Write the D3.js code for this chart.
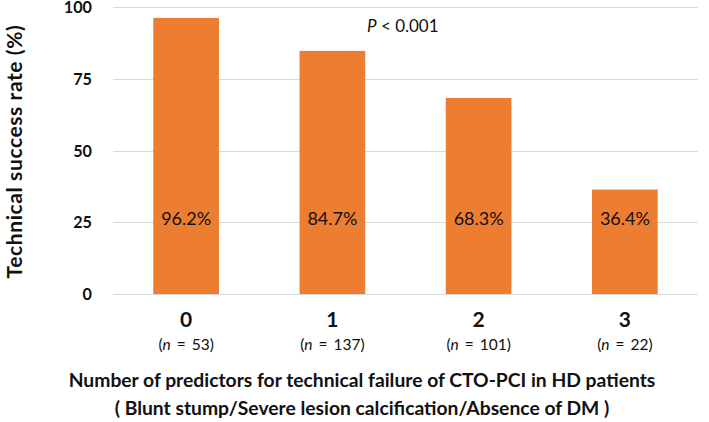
<!DOCTYPE html>
<html><head><meta charset="utf-8">
<script src="https://cdn.jsdelivr.net/npm/d3@7"></script>
<style>
html,body{margin:0;padding:0;background:#fff;}
svg{display:block;font-family:Lato, "Open Sans", sans-serif;}
</style></head>
<body>
<svg id="chart" width="709" height="422"></svg>
<script>
const categories = ["0", "1", "2", "3"];
const sampleSizes = [53, 137, 101, 22];
const successRates = [96.2, 84.7, 68.3, 36.4];
const yTicks = [0, 25, 50, 75, 100];
const pValueText = "< 0.001";
const yTitle = "Technical success rate (%)";
const xTitleLines = ["Number of predictors for technical failure of CTO-PCI in HD patients",
                     "( Blunt stump/Severe lesion calcification/Absence of DM )"];

const svg = d3.select("#chart");
const x = d3.scaleBand().domain(categories).range([113, 698]).paddingInner(0.551).paddingOuter(0.2755);
const y = d3.scaleLinear().domain([0, 100]).range([294, 7]);
const ink = "#111";

// gridlines
svg.append("g").selectAll("line").data(yTicks).join("line")
  .attr("x1", 113).attr("x2", 698)
  .attr("y1", d => Math.round(y(d)) + 0.5).attr("y2", d => Math.round(y(d)) + 0.5)
  .attr("stroke", "#d9d9d9").attr("stroke-width", 1);

// y tick labels
svg.append("g").selectAll("text").data(yTicks).join("text")
  .attr("x", 92).attr("y", d => y(d)).attr("dy", "0.38em")
  .attr("text-anchor", "end").attr("font-weight", "bold").attr("font-size", 16.2)
  .attr("fill", ink).text(d => d);

// bars
const data = categories.map((c, i) => ({c, v: successRates[i], n: sampleSizes[i]}));
svg.append("g").selectAll("rect").data(data).join("rect")
  .attr("x", d => x(d.c)).attr("width", x.bandwidth())
  .attr("y", d => y(d.v)).attr("height", d => y(0) - y(d.v))
  .attr("fill", "#ed7d31");

// value labels
svg.append("g").selectAll("text").data(data).join("text")
  .attr("x", d => x(d.c) + x.bandwidth() / 2).attr("y", y(25) + 2.5)
  .attr("text-anchor", "middle").attr("font-size", 18).attr("fill", ink)
  .text(d => d.v.toFixed(1) + "%");

// category labels
svg.append("g").selectAll("text").data(data).join("text")
  .attr("x", d => x(d.c) + x.bandwidth() / 2).attr("y", 327)
  .attr("text-anchor", "middle").attr("font-weight", "bold").attr("font-size", 21)
  .attr("fill", ink).text(d => d.c);

// n labels
const nl = svg.append("g").selectAll("text").data(data).join("text")
  .attr("x", d => x(d.c) + x.bandwidth() / 2).attr("y", 349.5)
  .attr("text-anchor", "middle").attr("font-size", 15.5).attr("word-spacing", 2).attr("fill", ink);
nl.append("tspan").text("(");
nl.append("tspan").attr("font-style", "italic").text("n");
nl.append("tspan").text(d => " = " + d.n + ")");

// p-value
const pt = svg.append("text").attr("x", 367).attr("y", 31.5)
  .attr("font-size", 17).attr("fill", ink);
pt.append("tspan").attr("font-style", "italic").text("P");
pt.append("tspan").text(" " + pValueText);

// x title
svg.append("g").selectAll("text").data(xTitleLines).join("text")
  .attr("x", 362).attr("y", (d, i) => 387 + i * 28)
  .attr("text-anchor", "middle").attr("font-weight", "bold").attr("font-size", 19.3)
  .attr("fill", ink).text(d => d);

// y title
svg.append("text").attr("transform", "translate(22," + ((20 + 283) / 2) + ") rotate(-90)")
  .attr("text-anchor", "middle").attr("font-weight", "bold").attr("font-size", 21)
  .attr("letter-spacing", 0.6).attr("fill", ink).text(yTitle);
</script>
</body></html>
